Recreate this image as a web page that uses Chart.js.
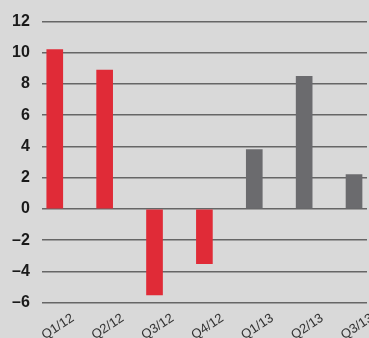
<!DOCTYPE html>
<html>
<head>
<meta charset="utf-8">
<script src="https://cdn.jsdelivr.net/npm/chart.js@4"></script>
<style>
  body { margin: 0; background: #d9d9d9; }
  #myChart { display: block; }
</style>
</head>
<body>
<canvas id="myChart" width="369" height="338"></canvas>
<script>
const quarters = ['Q1/12', 'Q2/12', 'Q3/12', 'Q4/12', 'Q1/13', 'Q2/13', 'Q3/13']
const values = [10.2, 8.9, -5.5, -3.5, 3.8, 8.5, 2.2]
const barColors = ['#e02b37', '#e02b37', '#e02b37', '#e02b37', '#6b6b6e', '#6b6b6e', '#6b6b6e']
const yTicks = [-6, -4, -2, 0, 2, 4, 6, 8, 10, 12]

const ctx = document.getElementById('myChart')
const myChart = new Chart(ctx, {
  type: 'bar',
  data: {
    datasets: [{
      data: values.map((v, i) => ({ x: i, y: v })),
      backgroundColor: barColors,
      barThickness: 16
    }]
  },
  options: {
    responsive: false,
    animation: false,
    layout: { padding: { top: 8, right: 2, left: 0, bottom: -5 } },
    plugins: { legend: { display: false }, tooltip: { enabled: false } },
    scales: {
      x: {
        type: 'linear',
        offset: false,
        min: -0.26,
        max: 6.26,
        grid: { display: false, offset: false },
        border: { display: false },
        afterBuildTicks: scale => { scale.ticks = quarters.map((q, i) => ({ value: i })) },
        ticks: {
          autoSkip: false,
          minRotation: 33,
          maxRotation: 33,
          labelOffset: 18,
          padding: 0,
          color: '#333',
          font: { family: 'Liberation Sans Narrow, Liberation Sans, sans-serif', size: 13 },
          callback: v => quarters[v]
        }
      },
      y: {
        min: -6,
        max: 12,
        afterBuildTicks: scale => { scale.ticks = yTicks.map(v => ({ value: v })) },
        grid: { color: '#666666', lineWidth: 1.6, drawTicks: false },
        border: { display: false },
        ticks: {
          padding: 12,
          color: '#1a1a1a',
          font: { family: 'Liberation Sans Narrow, Liberation Sans, sans-serif', size: 16, weight: 'bold' },
          callback: v => String(v).replace('-', '\u2013')
        }
      }
    }
  }
})
</script>
</body>
</html>
